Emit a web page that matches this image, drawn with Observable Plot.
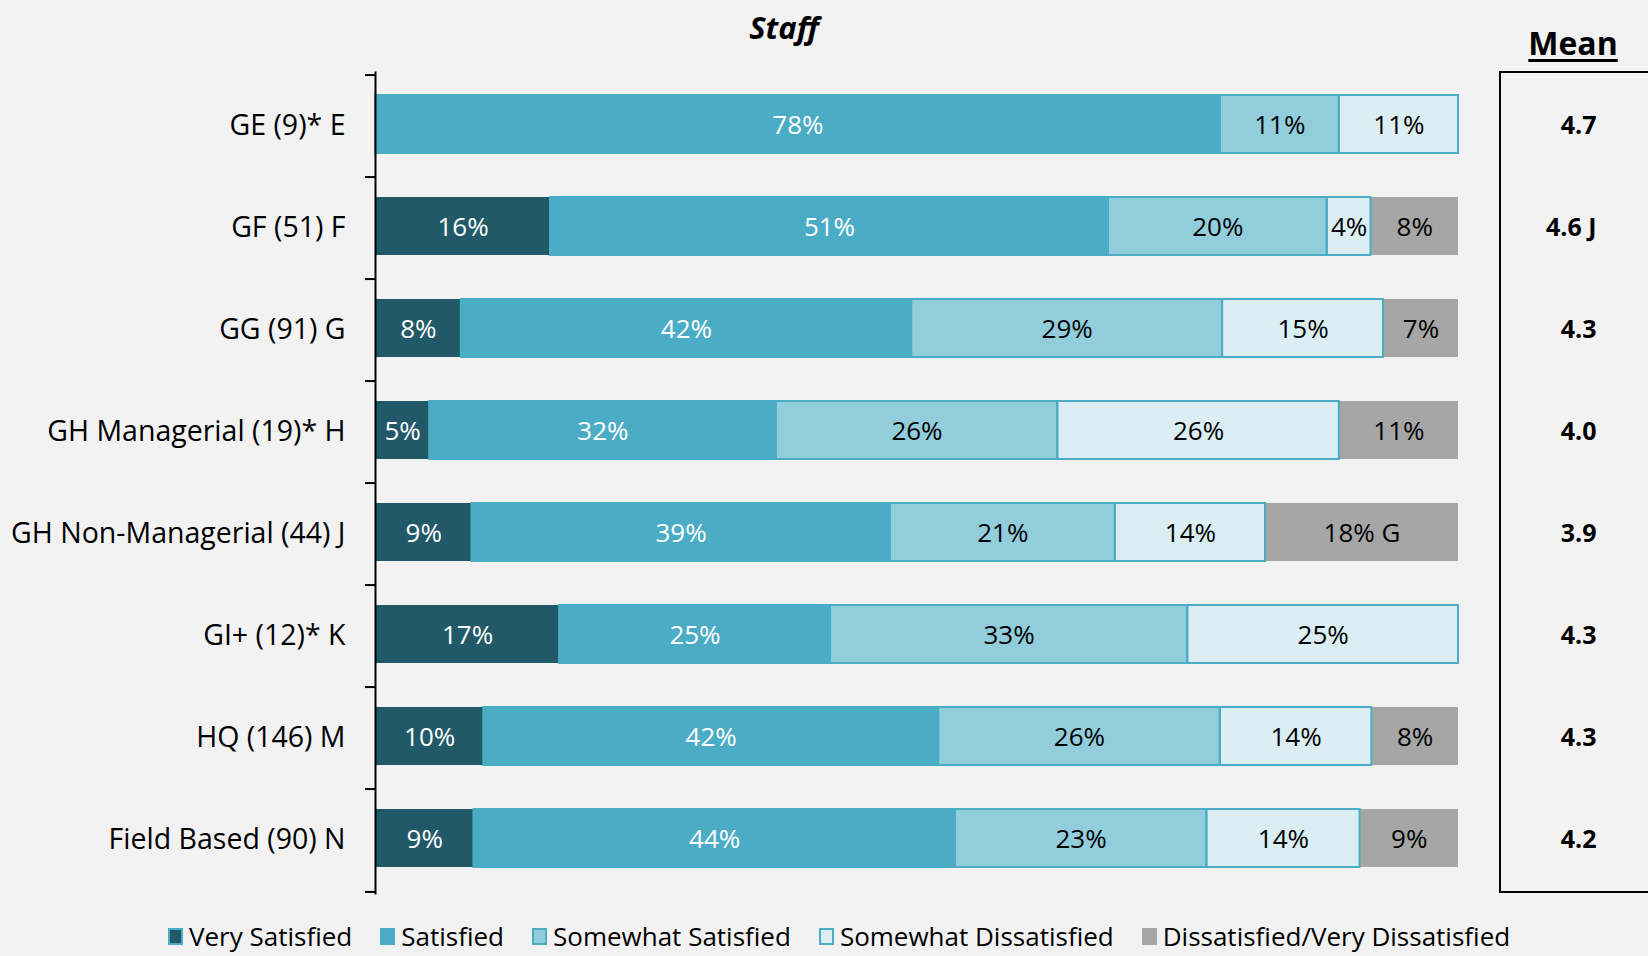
<!DOCTYPE html>
<html><head><meta charset="utf-8">
<script src="https://cdn.jsdelivr.net/npm/d3@7"></script>
<script src="https://cdn.jsdelivr.net/npm/@observablehq/plot@0.6"></script>
<style>
body{margin:0;background:#f2f2f2;}
#wrap{position:relative;width:1648px;height:956px;overflow:hidden;background:#f2f2f2;font-family:"Open Sans",sans-serif;color:#000;}
#chart{position:absolute;left:0;top:0;}
#title{position:absolute;left:684px;width:200px;top:6px;text-align:center;font-weight:bold;font-style:italic;font-size:31px;}
#meanHead{position:absolute;left:1473px;width:200px;top:21px;text-align:center;font-weight:bold;font-size:32px;text-decoration:underline;text-decoration-thickness:3px;text-underline-offset:4px;}
#meanBox{position:absolute;left:1499px;top:71px;width:300px;height:822px;border:2px solid #000;box-sizing:border-box;}
#legend{position:absolute;left:0;width:1648px;top:921px;display:flex;justify-content:flex-start;padding-left:168px;box-sizing:border-box;font-size:26px;line-height:30px;white-space:nowrap;}
.item{display:flex;align-items:center;margin-right:28px;}
.sw{width:15px;height:17px;box-sizing:border-box;margin-right:6px;border:2px solid #4BACC6;}
</style></head><body><div id="wrap">
<div id="title">Staff</div>
<div id="meanHead">Mean</div>
<div id="meanBox"></div>
<div id="chart"></div>
<div id="legend"></div>
</div>
<script>
const categories = ["GE (9)* E","GF (51) F","GG (91) G","GH Managerial (19)* H","GH Non-Managerial (44) J","GI+ (12)* K","HQ (146) M","Field Based (90) N"];
const seriesNames = ["Very Satisfied","Satisfied","Somewhat Satisfied","Somewhat Dissatisfied","Dissatisfied/Very Dissatisfied"];
const seriesColors = ["#215968","#4BACC6","#92CDDC","#DAEEF3","#A6A6A6"];
const verySatisfied = [0,16,8,5,9,17,10,9];
const satisfied = [78,51,42,32,39,25,42,44];
const somewhatSatisfied = [11,20,29,26,21,33,26,23];
const somewhatDissatisfied = [11,4,15,26,14,25,14,14];
const dissatisfied = [0,8,7,11,18,0,8,9];
const dissatisfiedLabels = ["","8%","7%","11%","18% G","","8%","9%"];
const means = ["4.7","4.6 J","4.3","4.0","3.9","4.3","4.3","4.2"];

const series = [verySatisfied, satisfied, somewhatSatisfied, somewhatDissatisfied, dissatisfied];
const segs = [];
categories.forEach((cat, i) => {
  const total = series.reduce((a, s) => a + s[i], 0);
  let cum = 0;
  series.forEach((s, k) => {
    const v = s[i];
    if (v > 0) {
      segs.push({cat, series: seriesNames[k], k, x1: cum / total, x2: (cum + v) / total,
        label: k === 4 ? dissatisfiedLabels[i] : v + "%"});
    }
    cum += v;
  });
});
const meanRows = categories.map((cat, i) => ({cat, mean: means[i]}));

const W = 1648, H = 910, mT = 71.5, mB = 15.5, mL = 375, mR = 190;
const step = (H - mT - mB) / categories.length;

const chart = Plot.plot({
  width: W, height: H,
  marginLeft: mL, marginRight: mR, marginTop: mT, marginBottom: mB,
  style: {background: "transparent", fontFamily: "'Open Sans', sans-serif", color: "#000", overflow: "visible"},
  x: {domain: [0, 1], axis: null},
  y: {domain: categories, paddingInner: 0.43, paddingOuter: 0.215, label: null, axis: null},
  color: {domain: seriesNames, range: seriesColors},
  marks: [
    Plot.barX(segs, {x1: "x1", x2: "x2", y: "cat", fill: "series", dy: -2}),
    Plot.barX(segs.filter(d => d.k >= 1 && d.k <= 3), {x1: "x1", x2: "x2", y: "cat", fill: "none", stroke: "#4BACC6", strokeWidth: 2, dy: -2}),
    Plot.text(segs, {x: d => (d.x1 + d.x2) / 2, y: "cat", text: "label", fill: d => d.k <= 1 ? "#ffffff" : "#000000", fontSize: 26, dy: -1}),
    Plot.ruleX([0], {stroke: "#000", strokeWidth: 2}),
    Plot.ruleY(categories, {y: d => d, x1: 0, x2: 0, insetLeft: -10, dy: -step / 2, stroke: "#000", strokeWidth: 2}),
    Plot.ruleY([categories[categories.length - 1]], {y: d => d, x1: 0, x2: 0, insetLeft: -10, dy: step / 2, stroke: "#000", strokeWidth: 2}),
    Plot.axisY({tickSize: 0, tickPadding: 30, fontSize: 28.5, fill: "#000", dy: -1}),
    Plot.text(meanRows, {y: "cat", text: "mean", frameAnchor: "right", dx: 138, fontWeight: "bold", fontSize: 25, dy: -1})
  ]
});
document.getElementById("chart").appendChild(chart);

const legend = document.getElementById("legend");
seriesNames.forEach((n, k) => {
  const it = document.createElement("div");
  it.className = "item";
  const sw = document.createElement("div");
  sw.className = "sw";
  sw.style.background = seriesColors[k];
  if (k === 4) sw.style.borderColor = seriesColors[k];
  it.appendChild(sw);
  const t = document.createElement("span");
  t.textContent = n;
  it.appendChild(t);
  legend.appendChild(it);
});
</script>
</body></html>
